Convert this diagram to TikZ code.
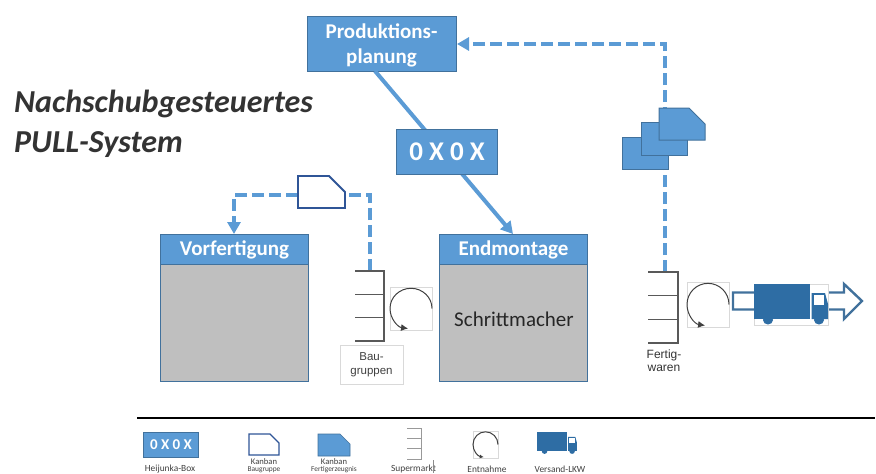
\documentclass[tikz,border=0pt]{standalone}
\usepackage{fontspec}
\setmainfont{Carlito}
\newfontfamily\arialf{Liberation Sans}
\usetikzlibrary{arrows.meta}
\definecolor{bluefill}{HTML}{5B9BD5}
\definecolor{blueline}{HTML}{41719C}
\definecolor{navyline}{HTML}{2F5597}
\definecolor{truckblue}{HTML}{2E6DA4}
\definecolor{greyfill}{HTML}{BFBFBF}
\definecolor{shelfgrey}{HTML}{595959}
\definecolor{faint}{HTML}{D9D9D9}
\definecolor{titlecol}{HTML}{333333}
\tikzset{
  bluebox/.style={draw=blueline,fill=bluefill,line width=1pt,text=white,font=\bfseries,align=center,inner sep=0pt,anchor=north west},
  greybox/.style={draw=blueline,fill=greyfill,line width=1pt,inner sep=0pt,anchor=north west},
  flowline/.style={draw=bluefill,line width=4pt},
  flowdash/.style={draw=bluefill,line width=4pt,dash pattern=on 12pt off 5pt},
  bluetip/.style={-{Triangle[length=12pt,width=13pt]}},
  shelf/.style={draw=shelfgrey,line width=1.3pt},
  lbl/.style={font=\arialf,text=black!80,align=center,inner sep=0pt},
  tinylbl/.style={text=black!75,align=center,inner sep=0pt},
}
% x, y, w, h, cut, style
\newcommand{\kanbanshape}[6]{%
  \draw[#6] (#1,#2) -- ({#1+#3-#5},#2) -- ({#1+#3},{#2+#5}) -- ({#1+#3},{#2+#4}) -- (#1,{#2+#4}) -- cycle;}
% x, y, w, h, shelf
\newcommand{\shelfshape}[5]{%
  \draw[#5] (#1,#2) -- ({#1+#3},#2) -- ({#1+#3},{#2+#4}) -- (#1,{#2+#4});
  \draw[#5] (#1,{#2+#4/3}) -- ({#1+#3},{#2+#4/3});
  \draw[#5] (#1,{#2+2*#4/3}) -- ({#1+#3},{#2+2*#4/3});}
% x, y of box, w, h, tip scale
\newcommand{\takeshape}[5]{%
  \draw[faint,line width=.7pt] (#1,#2) rectangle ({#1+#3},{#2+#4});
  \draw[black!75,line width=1pt,-{Latex[length=#5pt,width=#5pt]}] ({#1+#3},{#2+0.5*#4}) arc[start angle=0,end angle=262,x radius={#3*0.5 pt},y radius={#4*0.47 pt}];}
% x, y, scale
\newcommand{\truckshape}[3]{%
  \begin{scope}[shift={(#1,#2)},x=#3pt,y=-#3pt]
    \fill[truckblue] (0,0) rectangle (56,35);
    \fill[truckblue] (57.5,9) -- (71,9) -- (74,20) -- (74,35) -- (57.5,35) -- cycle;
    \fill[white] (59.5,11) rectangle (69.5,21);
    \fill[truckblue] (14,36) ellipse (5 and 4.5);
    \fill[truckblue] (65,36) ellipse (5 and 4.5);
  \end{scope}}
\begin{document}
\begin{tikzpicture}[x=1pt,y=-1pt]
\useasboundingbox (0,0) rectangle (876,474);
\clip (0,0) rectangle (876,474);

% title
\node[anchor=west,inner sep=0pt,text=titlecol,font=\fontsize{32}{34}\selectfont\bfseries\itshape] (t1) at (14,104) {Nachschubgesteuertes};
\node[anchor=west,inner sep=0pt,text=titlecol,font=\fontsize{32}{34}\selectfont\bfseries\itshape] (t2) at (14,145) {PULL-System};

% main boxes
\node[bluebox,minimum width=149pt,minimum height=55pt] (plan) at (307,16) {};
\node[inner sep=0pt,align=center,text=white,font=\fontsize{21}{25}\selectfont\bfseries] (plantext) at (381.5,45.5) {Produktions-\\planung};

\node[greybox,minimum width=148pt,minimum height=147pt] (vor) at (160,234) {};
\node[bluebox,minimum width=148pt,minimum height=30pt,font=\fontsize{21}{24}\selectfont\bfseries] (vorh) at (160,234) {Vorfertigung};
\node[greybox,minimum width=148pt,minimum height=147pt] (end) at (439,234) {};
\node[bluebox,minimum width=148pt,minimum height=30pt,font=\fontsize{21}{24}\selectfont\bfseries] (endh) at (439,234) {Endmontage};
\node[inner sep=0pt,text=black!85,font=\fontsize{21}{24}\selectfont] (pace) at (514,319) {Schrittmacher};

% coordinates
\coordinate (planout) at (375,71);
\coordinate (endin) at (513,234);
\coordinate (s1top) at (370,271);
\coordinate (s2top) at (665,272);
\coordinate (corner1) at (370,195);
\coordinate (corner2) at (234,195);
\coordinate (corner3) at (665,44);
\coordinate (planin) at (457,44);
\coordinate (vorin) at (234,234);
\coordinate (kbl) at (298,195);
\coordinate (kbr) at (345,195);

% connectors
\draw[flowline,bluetip] (planout) -- (endin);
\draw[flowdash] (s1top) -- (corner1) -- (kbr);
\draw[flowdash,bluetip] (kbl) -- (corner2) -- (vorin);
\draw[flowdash,bluetip] (s2top) -- (corner3) -- (planin);

% heijunka
\node[bluebox,minimum width=101pt,minimum height=45pt,font=\fontsize{27}{30}\selectfont\bfseries] (heij) at (396,129) {0 X 0 X};

% kanbans
\kanbanshape{298}{176}{47}{32}{16}{draw=navyline,fill=white,line width=1.8pt}
\kanbanshape{622}{137}{46}{32}{0}{draw=blueline,fill=bluefill,line width=1pt}
\kanbanshape{641}{122}{46}{33}{0}{draw=blueline,fill=bluefill,line width=1pt}
\kanbanshape{659}{108}{46}{32}{16}{draw=blueline,fill=bluefill,line width=1pt}

% supermarket Baugruppen
\shelfshape{355}{271}{29}{70}{shelf}
\takeshape{390}{287}{42}{43}{7}
\node[draw=faint,line width=.7pt,minimum width=63pt,minimum height=39pt,inner sep=0pt,lbl,text=black!75,font=\arialf\fontsize{11.5}{14}\selectfont] (bau) at (371.5,364.5) {Bau-\\gruppen};

% supermarket Fertigwaren
\shelfshape{648}{272}{30}{71}{shelf}
\takeshape{687}{282}{42}{45}{7}
\node[lbl,font=\arialf\fontsize{12}{13}\selectfont] (fert) at (664,361) {Fertig-\\waren};

% big arrow + truck
\draw[draw=blueline,fill=white,line width=2.4pt] (733,292.5) -- (844,292.5) -- (844,284) -- (862,301) -- (844,319) -- (844,309.5) -- (733,309.5) -- cycle;
\fill[white] (754,284) rectangle (828,325);
\draw[faint,line width=.4pt] (754,284) rectangle (828,325);
\truckshape{754}{284}{1}

% separator
\coordinate (sepl) at (137,418);
\coordinate (sepr) at (875,418);
\draw[black,line width=1.6pt] (sepl) -- (sepr);

% legend
\node[bluebox,minimum width=55pt,minimum height=25pt,font=\fontsize{15}{17}\selectfont\bfseries] (lh) at (143,432) {0 X 0 X};
\kanbanshape{249}{434}{30}{21}{9}{draw=navyline,fill=white,line width=1.1pt}
\kanbanshape{318}{434}{32}{22}{10}{draw=blueline,fill=bluefill,line width=.6pt}
\shelfshape{407}{428}{14}{31}{draw=black!40,line width=.7pt}
\takeshape{473}{431}{25}{27}{4}
\truckshape{537}{432}{.54}
\node[tinylbl,font=\fontsize{9.4}{10}\selectfont] (l1) at (170,469) {Heijunka-Box};
\node[tinylbl,font=\fontsize{8.6}{9}\selectfont] (l2a) at (264,461.5) {Kanban};
\node[tinylbl,font=\fontsize{7.4}{8}\selectfont] (l2b) at (264,470) {Baugruppe};
\node[tinylbl,font=\fontsize{8.6}{9}\selectfont] (l3a) at (334,461.5) {Kanban};
\node[tinylbl,font=\fontsize{7.4}{8}\selectfont] (l3b) at (334,470) {Fertigerzeugnis};
\node[tinylbl,font=\fontsize{9.4}{10}\selectfont] (l4) at (413.5,469) {Supermarkt};
\draw[black!45,line width=.4pt] (433,460) -- (433,473);
\node[tinylbl,font=\fontsize{9.4}{10}\selectfont] (l5) at (487,469) {Entnahme};
\node[tinylbl,font=\fontsize{9.4}{10}\selectfont] (l6) at (560,469) {Versand-LKW};
\end{tikzpicture}
\end{document}
